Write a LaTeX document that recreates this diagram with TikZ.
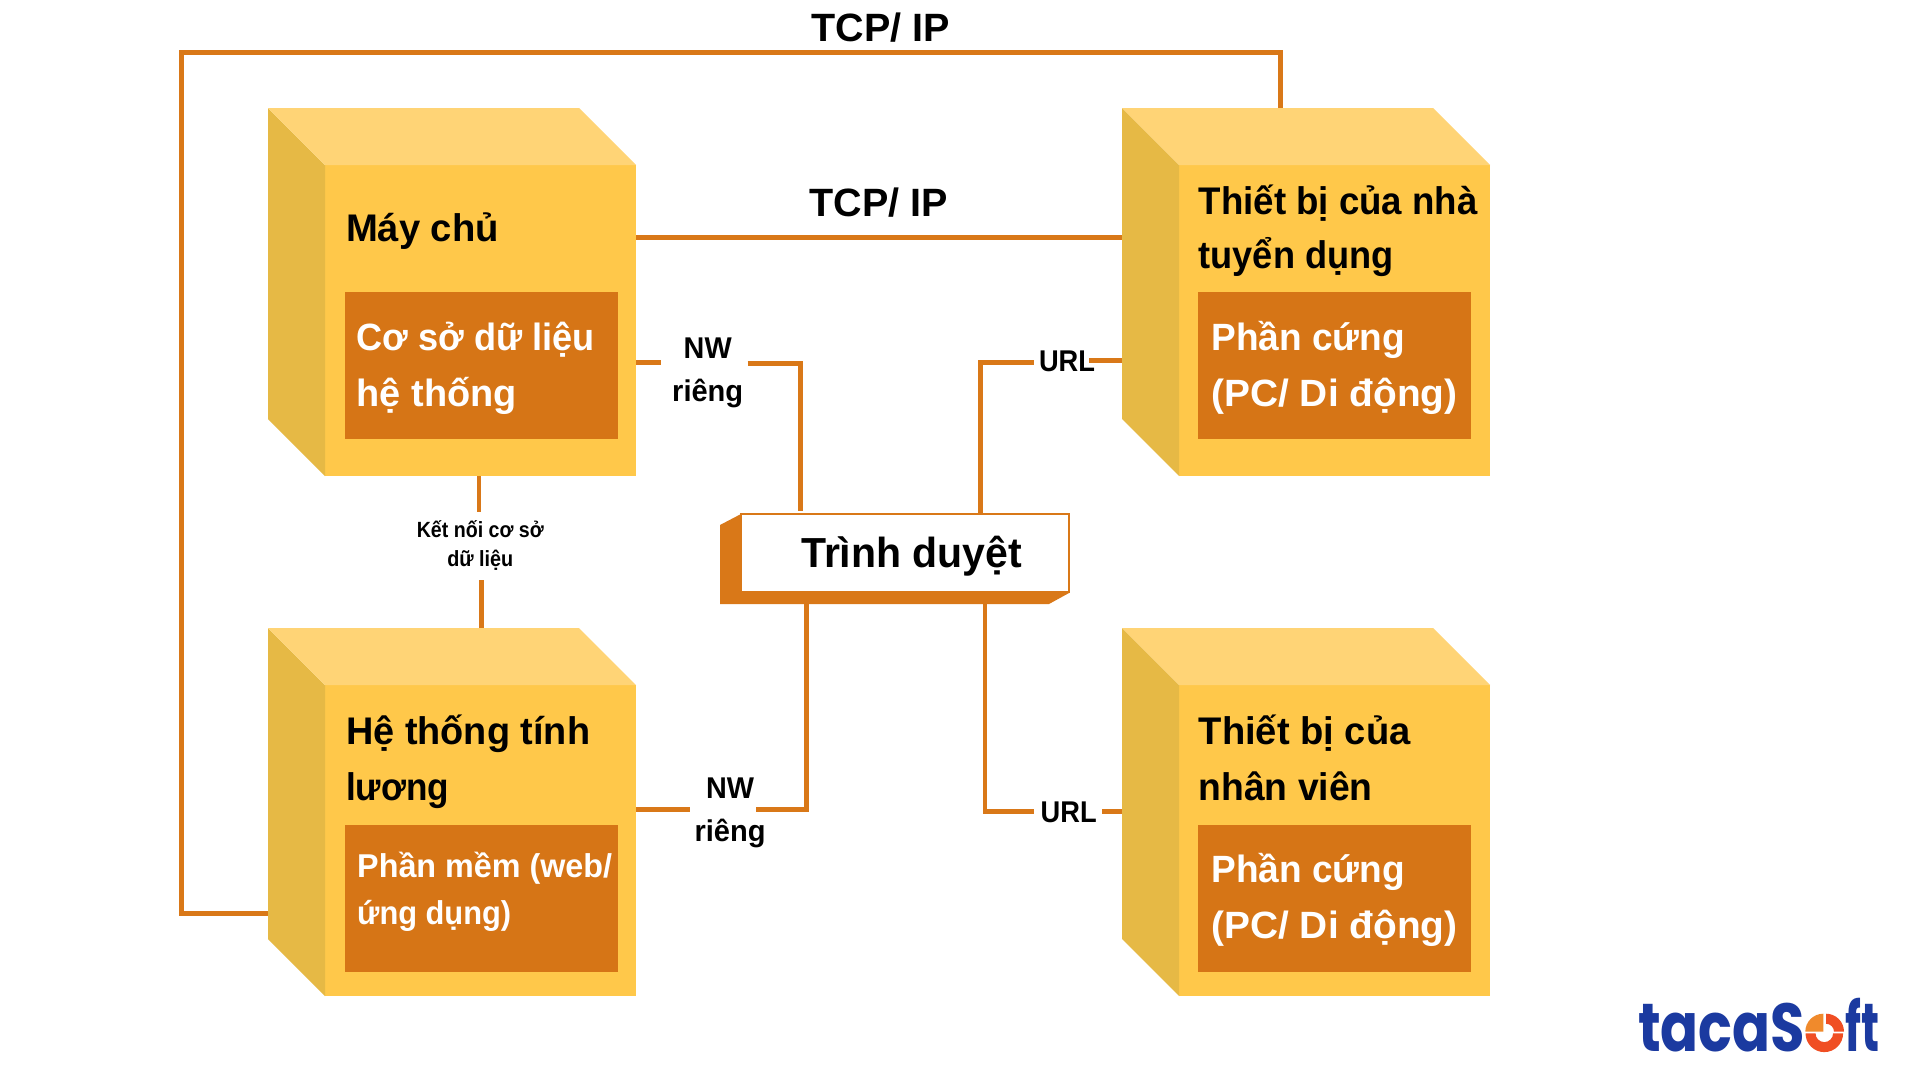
\documentclass[tikz,border=0pt]{standalone}
\usepackage{graphicx}
\usepackage{fontspec}
\setmainfont{Liberation Sans}
\newfontfamily\logofont{Poppins}
\newcommand{\txtsz}[2]{\fontsize{#1}{#2}\selectfont\bfseries}
\newcommand{\fitw}[2]{\resizebox{#1pt}{\height}{#2}}
\definecolor{cubefront}{HTML}{FFC84A}
\definecolor{cubetop}{HTML}{FFD476}
\definecolor{cubeleft}{HTML}{E6B945}
\definecolor{panel}{HTML}{D67516}
\definecolor{wire}{HTML}{D97818}
\definecolor{logoblue}{HTML}{1B3AA0}
\definecolor{logoorange}{HTML}{F08A2C}
\definecolor{logored}{HTML}{F04E23}
\tikzset{
  front/.style={fill=cubefront,draw=none,minimum width=311pt,minimum height=311pt,inner sep=0pt,outer sep=0pt},
  panelbox/.style={fill=panel,draw=none,minimum width=273pt,minimum height=147pt,inner sep=0pt,outer sep=0pt},
  wireline/.style={draw=wire,line width=5pt},
  thinwire/.style={draw=wire,line width=4.5pt},
  head/.style={anchor=base west,inner sep=0pt,align=left,text=black,font=\txtsz{38.5}{56}},
  headtight/.style={anchor=base west,inner sep=0pt,align=left,text=black,font=\txtsz{38.5}{54.3}},
  inner/.style={anchor=base west,inner sep=0pt,align=left,text=white,font=\txtsz{38}{56}},
  innersmall/.style={anchor=base west,inner sep=0pt,align=left,text=white,font=\txtsz{33}{47}},
  tag/.style={inner sep=0pt,align=center,text=black,font=\txtsz{39.5}{50}},
  nwtag/.style={anchor=base,inner sep=0pt,align=center,text=black,font=\txtsz{30}{43}},
  smalltag/.style={anchor=base,inner sep=0pt,align=center,text=black,font=\txtsz{22}{29}},
  logotext/.style={anchor=base west,inner sep=0pt,text=logoblue,font=\logofont\txtsz{68}{70}},
}
\newcommand{\cubefaces}[1]{%
  \fill[cubeleft] (#1.north west) -- ++(-57,-57) -- ++(0,311) -- (#1.south west) -- cycle;
  \fill[cubetop] (#1.north west) -- ++(-57,-57) -- ++(311,0) -- (#1.north east) -- cycle;
}
\begin{document}
\begin{tikzpicture}[x=1pt,y=-1pt]
\useasboundingbox (0,0) rectangle (1920,1080);
\fill[white] (0,0) rectangle (1920,1080);
% cubes
\node[front] (srv) at (480.5,320.5) {};
\node[front] (pay) at (480.5,840.5) {};
\node[front] (emp) at (1334.7,320.5) {};
\node[front] (staff) at (1334.7,840.5) {};
\cubefaces{srv}\cubefaces{pay}\cubefaces{emp}\cubefaces{staff}
\coordinate (empback) at (1122.3,108);
\coordinate (payback) at (268,628);
% panels
\node[panelbox] (srvp) at (481.3,365.3) {};
\node[panelbox] (payp) at (481.3,898.3) {};
\node[panelbox] (empp) at (1334.3,365.3) {};
\node[panelbox] (staffp) at (1334.3,898.3) {};
% browser
\fill[wire] (741,514) -- (720,525) -- (720,604) -- (1049,604) -- (1069,593) -- (1069,592) -- (741,592) -- cycle;
\node[fill=white,draw=wire,line width=1.5pt,minimum width=328pt,minimum height=78pt,inner sep=0pt,outer sep=0pt] (browser) at (905,553) {};
% named wire ends
\coordinate (t1) at (1280.7,52.3);
\coordinate (t2) at (181.7,52.3);
\coordinate (t3) at (181.7,913.3);
\coordinate (m1) at (636,237.3);
\coordinate (a1) at (661,362.7);
\coordinate (a2) at (747.7,363.3);
\coordinate (a3) at (800,363.3);
\coordinate (a4) at (800,510.7);
\coordinate (b1) at (690,809.3);
\coordinate (b2) at (756,809.3);
\coordinate (b3) at (806.7,809.3);
\coordinate (c1) at (980,362.7);
\coordinate (c2) at (980,512.7);
\coordinate (c3) at (1034,362.7);
\coordinate (c4) at (1089.3,360.7);
\coordinate (d1) at (985,811.3);
\coordinate (d2) at (1034,811.3);
\coordinate (d3) at (1102.3,811.3);
\coordinate (e1) at (479,512.3);
\coordinate (e2) at (481.3,580);
% wires
\draw[wireline] (t1 |- empback) -- (t1) -- (t2) -- (t3) -- (payback |- t3);
\draw[wireline] (m1) -- (empback |- m1);
\draw[thinwire] (srv.east |- a1) -- (a1);
\draw[wireline] (a2) -- (a3) -- (a4);
\draw[thinwire] (pay.east |- b1) -- (b1);
\draw[thinwire] (b2) -- (b3) -- (b3 |- browser.south);
\draw[wireline] (c2) -- (c1) -- (c3);
\draw[thinwire] (c4) -- (empback |- c4);
\draw[thinwire] (d1 |- browser.south) -- (d1) -- (d2);
\draw[thinwire] (d3) -- (empback |- d3);
\draw[thinwire] (srv.south -| e1) -- (e1);
\draw[wireline] (e2) -- (e2 |- payback);
% labels
\node[tag] (l1) at (880.5,27.5) {TCP/ IP};
\node[tag] (l2) at (878.5,203) {TCP/ IP};
\node[nwtag] (l3) at (707.7,401) {\fitw{48}{NW}\\\fitw{71}{riêng}};
\node[nwtag] (l4) at (730,841) {\fitw{48}{NW}\\\fitw{71}{riêng}};
\node[nwtag] (l5) at (1067,371.7) {\fitw{56}{URL}};
\node[nwtag] (l6) at (1068.7,822.3) {\fitw{56}{URL}};
\node[smalltag] (l7) at (480.3,566.7) {\fitw{127}{Kết nối cơ sở}\\\fitw{66}{dữ liệu}};
\node[anchor=base,inner sep=0pt,text=black,font=\txtsz{42}{50}] (l8) at (911.7,567.3) {\fitw{221}{Trình duyệt}};
% cube texts
\node[head] (h1) at (345.8,241.7) {\fitw{153}{Máy chủ}};
\node[inner] (p1) at (356.6,406.7) {\fitw{238}{Cơ sở dữ liệu}\\\fitw{160}{hệ thống}};
\node[head] (h2) at (346,800.7) {\fitw{244}{Hệ thống tính}\\\fitw{103}{lương}};
\node[innersmall] (p2) at (357,924) {\fitw{255}{Phần mềm (web/}\\\fitw{154}{ứng dụng)}};
\node[headtight] (h3) at (1198.5,268.3) {\fitw{279}{Thiết bị của nhà}\\\fitw{195}{tuyển dụng}};
\node[inner] (p3) at (1211.3,406.7) {\fitw{193.5}{Phần cứng}\\\fitw{246}{(PC/ Di động)}};
\node[head] (h4) at (1198.5,800.7) {\fitw{212}{Thiết bị của}\\\fitw{174}{nhân viên}};
\node[inner] (p4) at (1211.3,938.3) {\fitw{193.5}{Phần cứng}\\\fitw{246}{(PC/ Di động)}};
% logo
\node[logotext] (lg1) at (1638,1051) {\fitw{167}{tacaS}};
\node[logotext] (lg2) at (1845,1051) {\fitw{34}{ft}};
\fill[logoorange] (1823.3,1031.7) -- ++(-18,0) arc[start angle=180,end angle=90,radius=18pt] -- cycle;
\fill[logored] (1826,1013.7) arc[start angle=90,end angle=0,radius=18pt] -- ++(-10,0) arc[start angle=0,end angle=90,radius=8pt] -- cycle;
\fill[logored] (1805.5,1033.3) arc[start angle=180,end angle=360,radius=18.8pt] -- ++(-10,0) arc[start angle=360,end angle=180,radius=8.8pt] -- cycle;
\end{tikzpicture}
\end{document}
